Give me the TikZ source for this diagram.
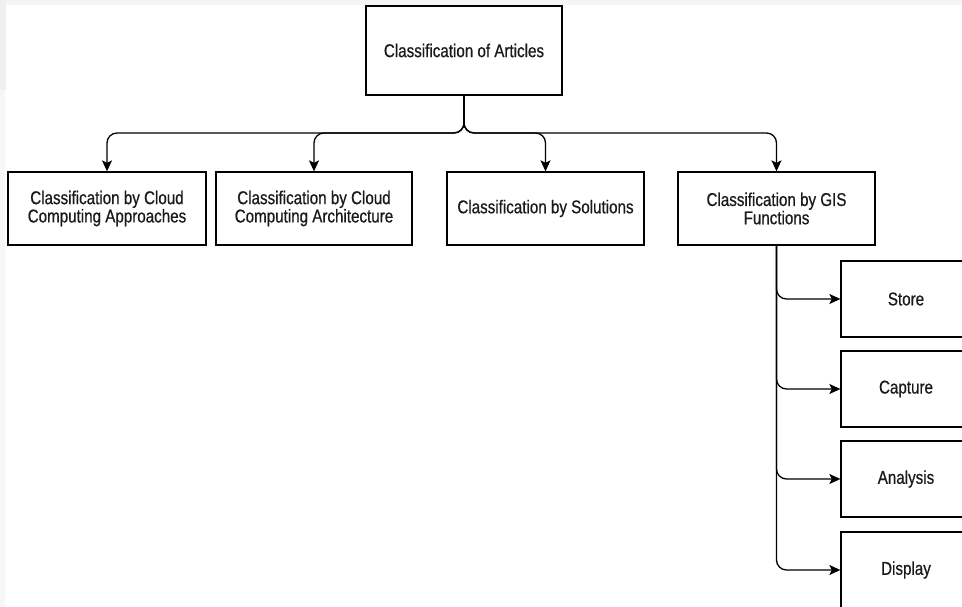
\documentclass[tikz,border=0pt]{standalone}
\usepackage{fontspec}
\setmainfont[FakeStretch=0.82,FakeBold=0.6]{Liberation Sans}
\usetikzlibrary{arrows.meta}
\definecolor{txt}{HTML}{1A1A1A}
\tikzset{
  box/.style={draw=black, line width=1.3pt, fill=white, rectangle, align=center,
    inner sep=0pt, text=txt, font=\fontsize{18.5}{18.3}\selectfont},
  conn/.style={draw=black, line width=1.3pt, rounded corners=10pt,
    -{Stealth[length=11pt,width=10pt,inset=2.5pt]}}
}
\begin{document}
\begin{tikzpicture}[x=1pt,y=-1pt]
\path[use as bounding box] (0,0) rectangle (962,607);
\clip (0,0) rectangle (962,607);
\fill[white] (0,0) rectangle (962,607);
\fill[black!4] (0,0) rectangle (962,5);
\fill[black!6] (0,0) rectangle (6,90);
\fill[black!3] (0,90) rectangle (5,607);

\node[box, minimum width=196pt, minimum height=89pt] (top) at (464,50.5) {Classification of Articles};

\node[box, minimum width=198pt, minimum height=73pt] (c1) at (107,208.5) {Classification by Cloud\\Computing Approaches};
\node[box, minimum width=196pt, minimum height=73pt] (c2) at (314,208.5) {Classification by Cloud\\Computing Architecture};
\node[box, minimum width=197pt, minimum height=73pt] (c3) at (545.5,208.5) {Classification by Solutions};
\node[box, minimum width=197pt, minimum height=73pt] (c4) at (776.5,208.5) {Classification by GIS\\Functions};

\node[box, minimum width=130pt, minimum height=76pt] (s1) at (906,299) {Store};
\node[box, minimum width=130pt, minimum height=76pt] (s2) at (906,389) {Capture};
\node[box, minimum width=130pt, minimum height=76pt] (s3) at (906,479) {Analysis};
\node[box, minimum width=130pt, minimum height=76pt] (s4) at (906,570) {Display};

\coordinate (bus) at (0,133);

\foreach \c in {c1,c2,c3,c4}{
  \draw[conn] (top.south) -- (top.south |- bus) -| (\c.north);
}
\foreach \s in {s1,s2,s3,s4}{
  \draw[conn] (c4.south) |- (\s.west);
}
\end{tikzpicture}
\end{document}
